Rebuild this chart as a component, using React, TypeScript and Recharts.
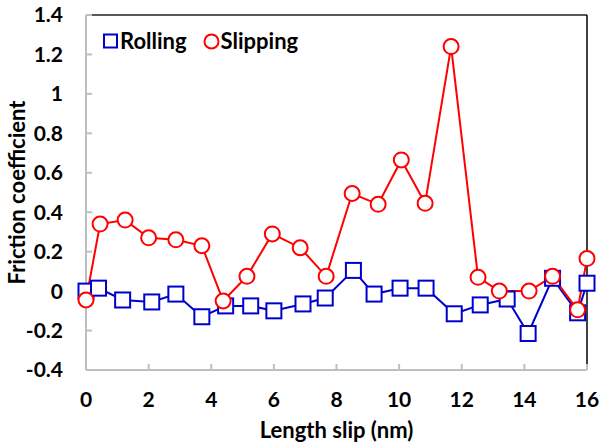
import React from "react";
import { LineChart, Line, XAxis, YAxis, Legend, ReferenceLine } from "recharts";

const rollingX = [0, 0.4, 1.17, 2.1, 2.87, 3.7, 4.46, 5.26, 6.0, 6.93, 7.64, 8.54, 9.2, 10.03, 10.86, 11.76, 12.59, 13.45, 14.12, 14.9, 15.7, 16];
const rollingY = [0.0, 0.015, -0.045, -0.055, -0.015, -0.13, -0.075, -0.075, -0.1, -0.065, -0.035, 0.105, -0.015, 0.015, 0.015, -0.115, -0.07, -0.04, -0.215, 0.065, -0.11, 0.04];
const slippingX = [0, 0.45, 1.25, 2.0, 2.87, 3.7, 4.38, 5.14, 5.95, 6.84, 7.67, 8.5, 9.33, 10.07, 10.83, 11.66, 12.52, 13.2, 14.15, 14.9, 15.7, 16];
const slippingY = [-0.045, 0.34, 0.36, 0.27, 0.26, 0.23, -0.05, 0.075, 0.29, 0.22, 0.075, 0.495, 0.44, 0.665, 0.445, 1.24, 0.07, 0.0, 0.0, 0.075, -0.095, 0.165];
const xTicks = [0, 2, 4, 6, 8, 10, 12, 14, 16];
const yTicks = [-0.4, -0.2, 0, 0.2, 0.4, 0.6, 0.8, 1, 1.2, 1.4];

const rolling = rollingX.map((x, i) => ({ x, y: rollingY[i] }));
const slipping = slippingX.map((x, i) => ({ x, y: slippingY[i] }));

const BLUE = "#0000cc";
const RED = "#ff0000";
const font = "Lato, 'Open Sans', sans-serif";

const SquareDot = (props: any) => {
  const { cx, cy } = props;
  if (cx == null || cy == null) return null;
  return <rect x={cx - 7.5} y={cy - 7.5} width={15} height={15} fill="#fff" stroke={BLUE} strokeWidth={2} />;
};

const CircleDot = (props: any) => {
  const { cx, cy } = props;
  if (cx == null || cy == null) return null;
  return <circle cx={cx} cy={cy} r={7.5} fill="#fff" stroke={RED} strokeWidth={2} />;
};

const LegendBox = () => (
  <div style={{ display: "flex", alignItems: "center", fontFamily: font, fontWeight: 700, fontSize: 22, color: "#000", lineHeight: "24px" }}>
    <svg width={17} height={16}>
      <rect x={2} y={1.5} width={13} height={13} fill="#fff" stroke={BLUE} strokeWidth={2} />
    </svg>
    <span style={{ marginLeft: 1, marginRight: 16 }}>Rolling</span>
    <svg width={17} height={17}>
      <circle cx={8.5} cy={8.5} r={7} fill="#fff" stroke={RED} strokeWidth={2} />
    </svg>
    <span style={{ marginLeft: 1 }}>Slipping</span>
  </div>
);

const fmt = (v: number) => String(Number(v.toFixed(1)));
const tickStyle = { fill: "#000", fontSize: 21, fontWeight: 700, fontFamily: font };

export default function App() {
  return (
    <div style={{ position: "absolute", left: 0, top: 0, background: "#fff" }}>
      <LineChart width={601} height={445} margin={{ top: 15, right: 14, bottom: 0, left: 0 }}>
        <XAxis
          type="number"
          dataKey="x"
          domain={[0, 16]}
          ticks={xTicks}
          allowDuplicatedCategory={false}
          height={75}
          stroke="#bfbfbf"
          strokeWidth={2}
          tickSize={-6}
          tickMargin={28}
          tick={tickStyle}
          label={{ value: "Length slip (nm)", position: "insideBottom", offset: 7, fill: "#000", fontSize: 22, fontWeight: 700, fontFamily: font }}
        />
        <YAxis
          type="number"
          dataKey="y"
          domain={[-0.4, 1.4]}
          ticks={yTicks}
          width={86}
          stroke="#bfbfbf"
          strokeWidth={2}
          tickSize={-6}
          tickMargin={29}
          tickFormatter={fmt}
          tick={tickStyle}
          label={{ value: "Friction coefficient", angle: -90, position: "insideLeft", offset: 17, fill: "#000", fontSize: 22, fontWeight: 700, fontFamily: font, style: { textAnchor: "middle" } }}
        />
        <ReferenceLine y={1.4} stroke="#222" strokeWidth={1.5} />
        <ReferenceLine x={16} stroke="#000" strokeWidth={1.5} />
        <Legend verticalAlign="middle" align="center" content={LegendBox} wrapperStyle={{ top: 29, left: 102, width: "auto" }} />
        <Line data={rolling} dataKey="y" name="Rolling" stroke={BLUE} strokeWidth={2} dot={SquareDot} isAnimationActive={false} />
        <Line data={slipping} dataKey="y" name="Slipping" stroke={RED} strokeWidth={2} dot={CircleDot} isAnimationActive={false} />
      </LineChart>
    </div>
  );
}
